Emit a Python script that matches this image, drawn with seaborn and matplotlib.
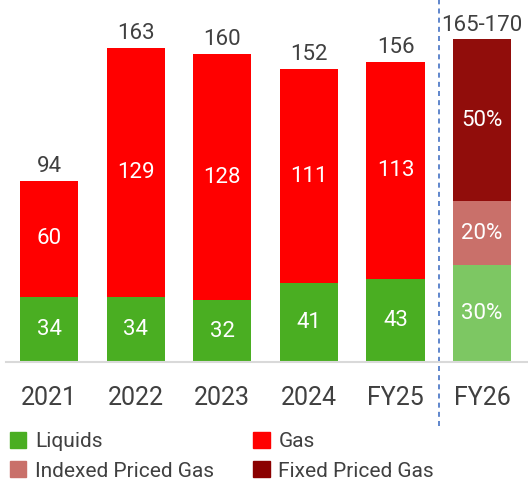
import matplotlib
matplotlib.use('Agg')
import matplotlib.pyplot as plt
import matplotlib.patches as mpatches
import seaborn as sns
import pandas as pd

sns.set_style('white')
plt.rcParams['font.family'] = ['Liberation Sans Narrow', 'Roboto', 'DejaVu Sans']

years = ['2021', '2022', '2023', '2024', 'FY25', 'FY26']
liquids = [34, 34, 32, 41, 43]
gas = [60, 129, 128, 111, 113]
totals = [94, 163, 160, 152, 156]
fy26_total = 167.5
fy26_label = '165-170'
fy26_shares = [30, 20, 50]   # liquids, indexed priced gas, fixed priced gas

c_liq = '#4aae22'
c_gas = '#ff0000'
c_liq26 = '#7dc763'
c_idx = '#c9706a'
c_fix = '#910d0b'
c_fix_legend = '#8b0000'

df = pd.DataFrame({'year': years[:5], 'liquids': liquids, 'gas': gas})

fig = plt.figure(figsize=(5.28, 4.86), dpi=100)
ax = fig.add_axes([0.011, 0.255, 0.989, 0.745])

sns.barplot(data=df, x='year', y='liquids', order=years, color=c_liq,
            width=0.67, ax=ax, saturation=1, linewidth=0)
sns.barplot(data=df, x='year', y='gas', order=years, color=c_gas,
            bottom=df['liquids'], width=0.67, ax=ax, saturation=1, linewidth=0)

seg_vals = [fy26_total * s / 100 for s in fy26_shares]
bottom = 0
for val, col, s in zip(seg_vals, [c_liq26, c_idx, c_fix], fy26_shares):
    sns.barplot(x=['FY26'], y=[val], order=years, color=col, bottom=bottom,
                width=0.67, ax=ax, saturation=1, linewidth=0)
    ax.text(5, bottom + val / 2, f'{s}%', ha='center', va='center',
            color='white', fontsize=16)
    bottom += val

for i in range(5):
    ax.text(i, liquids[i] / 2, str(liquids[i]), ha='center', va='center',
            color='white', fontsize=16)
    ax.text(i, liquids[i] + gas[i] / 2, str(gas[i]), ha='center', va='center',
            color='white', fontsize=16)
    ax.text(i, totals[i] + 2, str(totals[i]), ha='center', va='bottom',
            color='#404040', fontsize=16)
ax.text(5, fy26_total + 2, fy26_label, ha='center', va='bottom',
        color='#404040', fontsize=16)

ax.set_xlim(-0.5, 5.53)
ax.set_ylim(0, 188)
ax.set_xlabel('')
ax.set_ylabel('')
ax.set_yticks([])
ax.tick_params(axis='x', length=0, pad=17, labelsize=18, colors='#404040')
sns.despine(ax=ax, left=True)
ax.spines['bottom'].set_color('#d9d9d9')
ax.spines['bottom'].set_linewidth(1.5)

ax.plot([4.5, 4.5], [-33, 188], ls=(0, (3, 2.5)), color='#4472c4', lw=1.2,
        clip_on=False)

# matplotlib fills legend column-wise; order so rows read Liquids/Gas, Indexed/Fixed
handles = [mpatches.Patch(color=c_liq, label='Liquids'),
           mpatches.Patch(color=c_idx, label='Indexed Priced Gas'),
           mpatches.Patch(color=c_gas, label='Gas'),
           mpatches.Patch(color=c_fix_legend, label='Fixed Priced Gas')]
fig.legend(handles=handles, ncol=2, loc='upper left',
           bbox_to_anchor=(-0.017, 0.15), frameon=False, fontsize=15,
           handlelength=0.8, handleheight=0.8, handletextpad=0.4,
           columnspacing=1.9, labelspacing=0.5, labelcolor='#404040')

fig.savefig('out.png', dpi=100)
